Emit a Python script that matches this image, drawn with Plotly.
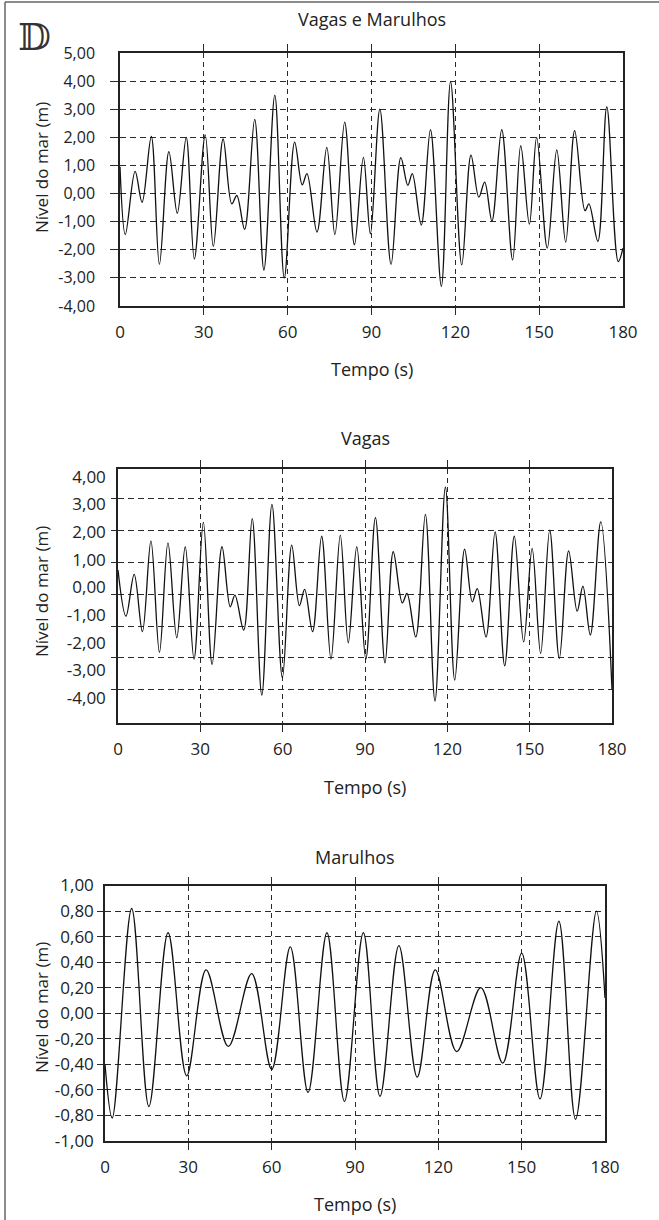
import plotly.graph_objects as go

# ---------------- data ----------------
X_TICKS = [0, 30, 60, 90, 120, 150, 180]
X_LABELS = ["0", "30", "60", "90", "120", "150", "180"]
X_GRID = [30, 60, 90, 120, 150]

Y1_TICKS = [5, 4, 3, 2, 1, 0, -1, -2, -3, -4]
Y1_LABELS = ["5,00", "4,00", "3,00", "2,00", "1,00", "0,00", "-1,00", "-2,00", "-3,00", "-4,00"]
Y1_GRID = [4, 3, 2, 1, 0, -1, -2, -3]

Y2_TICKS = [4, 3, 2, 1, 0, -1, -2, -3, -4]
Y2_LABELS = ["4,00", "3,00", "2,00", "1,00", "0,00", "-1,00", "-2,00", "-3,00", "-4,00"]
Y2_GRID = [3, 2, 1, 0, -1, -2, -3]

Y3_TICKS = [1.0, 0.8, 0.6, 0.4, 0.2, 0.0, -0.2, -0.4, -0.6, -0.8, -1.0]
Y3_LABELS = ["1,00", "0,80", "0,60", "0,40", "0,20", "0,00", "-0,20", "-0,40", "-0,60", "-0,80", "-1,00"]
Y3_GRID = [0.8, 0.6, 0.4, 0.2, 0.0, -0.2, -0.4, -0.6, -0.8]

# Vagas e Marulhos (extrema)
VM_T = [0, 1.9, 5.4, 7.9, 11.2, 14.1, 17.5, 20.5, 23.7, 26.6,
        30.5, 33.4, 36.9, 40.0, 41.8, 44.6, 48.2, 51.5, 55.4, 58.8,
        62.5, 65.2, 66.9, 70.5, 74.0, 76.9, 80.4, 83.9, 87.1, 89.6,
        93.0, 97.0, 100.5, 103.0, 104.6, 107.8, 111.1, 115.0, 118.3, 122.3,
        125.6, 128.4, 130.5, 133.1, 136.6, 140.5, 143.4, 146.5, 149.1, 152.9,
        156.3, 159.5, 162.7, 166.4, 167.8, 171.0, 174.2, 178.3, 180]
VM_V = [0.95, -1.46, 0.79, -0.31, 2.03, -2.52, 1.49, -0.70, 2.00, -2.33,
        2.09, -1.88, 1.94, -0.37, -0.07, -1.27, 2.64, -2.72, 3.50, -3.00,
        1.83, 0.31, 0.71, -1.37, 1.64, -1.46, 2.54, -1.82, 1.29, -1.43,
        3.00, -2.52, 1.28, 0.29, 0.71, -1.12, 2.27, -3.30, 3.98, -2.54,
        1.37, -0.13, 0.41, -0.97, 2.27, -2.36, 1.70, -1.09, 2.00, -1.94,
        1.55, -1.73, 2.24, -0.61, -0.37, -1.70, 3.08, -2.42, -1.94]

# Vagas
V_T = [0, 2.9, 5.9, 8.9, 12.0, 15.1, 18.2, 21.4, 24.5, 27.7,
       31.1, 34.3, 37.9, 40.9, 42.6, 45.8, 48.9, 52.4, 56.1, 59.9,
       63.3, 66.1, 68.0, 70.9, 74.2, 77.6, 81.0, 83.9, 87.0, 90.3,
       93.8, 97.3, 100.3, 103.6, 105.3, 108.5, 112.0, 115.5, 119.3, 122.7,
       126.3, 129.1, 130.9, 134.1, 137.4, 140.9, 144.4, 147.8, 150.9, 154.0,
       157.3, 160.8, 164.2, 167.3, 169.4, 172.1, 175.9, 180]
V_V = [0.63, -1.04, 0.47, -1.60, 1.68, -2.35, 1.61, -1.82, 1.47, -2.59,
       2.35, -2.78, 1.47, -0.70, -0.28, -1.54, 2.49, -3.89, 3.00, -3.27,
       1.53, -0.66, -0.07, -1.60, 1.85, -2.59, 1.89, -2.00, 1.47, -2.59,
       2.52, -2.73, 1.29, -0.56, -0.22, -1.79, 2.64, -4.11, 3.62, -3.35,
       1.38, -0.52, -0.04, -1.79, 2.01, -2.83, 1.85, -1.97, 1.41, -2.39,
       2.07, -2.57, 1.32, -0.86, 0.05, -1.72, 2.37, -3.69]

# Marulhos
M_T = [0, 2.6, 9.6, 15.8, 22.7, 29.4, 36.4, 44.4, 52.8, 60.0,
       66.7, 73.1, 79.9, 86.2, 93.0, 99.0, 105.8, 112.4, 118.9, 126.6,
       135.3, 143.2, 150.0, 156.6, 163.4, 169.4, 176.9, 180]
M_V = [-0.40, -0.82, 0.82, -0.73, 0.63, -0.49, 0.34, -0.26, 0.31, -0.44,
       0.52, -0.62, 0.63, -0.69, 0.63, -0.65, 0.53, -0.50, 0.34, -0.30,
       0.20, -0.39, 0.47, -0.67, 0.72, -0.83, 0.80, 0.12]

TITLES = ["Vagas e Marulhos", "Vagas", "Marulhos"]
X_TITLE = "Tempo (s)"
Y_TITLE = "Nível do mar (m)"

# ---------------- layout helpers ----------------
W, H = 659, 1220
FONT = "Open Sans, Noto Sans, sans-serif"
INK = "#222222"
GRIDC = "#2a2a2a"


def fx(p):
    return p / W


def fy(p):
    return 1 - p / H


def xaxis(dom, standoff):
    return dict(
        domain=[fx(dom[0]), fx(dom[1])], range=[0, 180],
        tickmode="array", tickvals=X_TICKS, ticktext=X_LABELS,
        ticks="", showgrid=False, zeroline=False,
        showline=True, mirror="ticks", linecolor=INK, linewidth=1.5,
        tickfont=dict(family=FONT, size=17, color=INK),
        ticklabelstandoff=standoff,
        minor=dict(tickmode="array", tickvals=X_GRID, ticks="outside", ticklen=7,
                   tickwidth=1.2, tickcolor=GRIDC, showgrid=True, gridcolor=GRIDC,
                   gridwidth=1.1, griddash="5px,4px"),
        fixedrange=True,
    )


def yaxis(dom, rng, tv, tt, grid, standoff, fsize, ticklen):
    d = dict(
        domain=[fy(dom[1]), fy(dom[0])], range=rng,
        tickmode="array", tickvals=tv, ticktext=tt,
        ticks="", showgrid=False, zeroline=False,
        showline=True, mirror=True, linecolor=INK, linewidth=1.5,
        tickfont=dict(family=FONT, size=fsize, color=INK),
        ticklabelstandoff=standoff,
        fixedrange=True,
    )
    if grid is not None:
        d["minor"] = dict(tickmode="array", tickvals=grid, ticks="outside", ticklen=ticklen,
                          tickwidth=1.2, tickcolor=GRIDC, showgrid=True, gridcolor=GRIDC,
                          gridwidth=1.1, griddash="6px,4px")
    return d


# pixel boxes of the three panels: (x0, x1), (y0_top, y1_bottom)
P1X, P1Y = (120, 623), (53, 306)
P2X, P2Y = (118, 612), (469, 723)
P3X, P3Y = (105, 605), (885.5, 1141)

fig = go.Figure()
line = dict(color="#111111", width=1.3, shape="spline", smoothing=1.0)
fig.add_trace(go.Scatter(x=VM_T, y=VM_V, mode="lines", line=line, xaxis="x", yaxis="y",
                         showlegend=False, hoverinfo="skip"))
fig.add_trace(go.Scatter(x=V_T, y=V_V, mode="lines", line=line, xaxis="x2", yaxis="y2",
                         showlegend=False, hoverinfo="skip"))
fig.add_trace(go.Scatter(x=M_T, y=M_V, mode="lines", line=line, xaxis="x3", yaxis="y3",
                         showlegend=False, hoverinfo="skip"))
# empty trace to register the grid-only overlay axis of panel 2
fig.add_trace(go.Scatter(x=[None], y=[None], mode="lines", xaxis="x2", yaxis="y4",
                         showlegend=False, hoverinfo="skip"))

y4 = dict(
    domain=[fy(P2Y[1]), fy(P2Y[0])], range=[-4.04, 3.93],
    overlaying="y2", anchor="x2", side="left",
    tickmode="array", tickvals=Y2_GRID, showticklabels=False,
    ticks="outside", ticklen=6, tickwidth=1.2, tickcolor=GRIDC,
    showgrid=True, gridcolor=GRIDC, gridwidth=1.1, griddash="6px,4px",
    showline=False, zeroline=False, fixedrange=True,
)

fig.update_layout(
    width=W, height=H,
    margin=dict(l=0, r=0, t=0, b=0, autoexpand=False),
    paper_bgcolor="white", plot_bgcolor="white",
    font=dict(family=FONT, color=INK),
    xaxis=dict(xaxis(P1X, 10), anchor="y"),
    yaxis=dict(yaxis(P1Y, [-4, 5], Y1_TICKS, Y1_LABELS, Y1_GRID, 20, 16, 8), anchor="x"),
    xaxis2=dict(xaxis(P2X, 10), anchor="y2"),
    yaxis2=dict(yaxis(P2Y, [-4.9, 4.28], Y2_TICKS, Y2_LABELS, None, 7, 17, 6), anchor="x2"),
    yaxis4=y4,
    xaxis3=dict(xaxis(P3X, 10), anchor="y3"),
    yaxis3=dict(yaxis(P3Y, [-1.0, 1.0], Y3_TICKS, Y3_LABELS, Y3_GRID, 6, 17, 6), anchor="x3"),
)

ann = []
# panel titles
for title, (xx, yy) in zip(TITLES, [(P1X, 19), (P2X, 438), (P3X, 857)]):
    ann.append(dict(text=title, x=fx((xx[0] + xx[1]) / 2), y=fy(yy), xref="paper", yref="paper",
                    xanchor="center", yanchor="middle", showarrow=False,
                    font=dict(family=FONT, size=18, color=INK)))
# x titles
for xx, yy in [(P1X, 369), (P2X, 787), (P3X, 1204)]:
    ann.append(dict(text=X_TITLE, x=fx((xx[0] + xx[1]) / 2), y=fy(yy), xref="paper", yref="paper",
                    xanchor="center", yanchor="middle", showarrow=False,
                    font=dict(family=FONT, size=18, color=INK)))
# y titles
for yy in [168, 592, 1008]:
    ann.append(dict(text=Y_TITLE, x=fx(41), y=fy(yy), xref="paper", yref="paper",
                    xanchor="center", yanchor="middle", showarrow=False, textangle=-90,
                    font=dict(family=FONT, size=17, color=INK)))
# panel letter
ann.append(dict(text="𝔻", x=fx(34), y=fy(37), xref="paper", yref="paper",
                xanchor="center", yanchor="middle", showarrow=False,
                font=dict(family="DejaVu Serif, DejaVu Sans, serif", size=38, color="#333333")))
fig.update_layout(annotations=ann)

# outer frame (top and left edges)
fig.update_layout(shapes=[
    dict(type="line", xref="paper", yref="paper", x0=fx(5), x1=fx(5), y0=fy(2), y1=fy(1220),
         line=dict(color="#666666", width=1.5)),
    dict(type="line", xref="paper", yref="paper", x0=fx(5), x1=fx(659), y0=fy(2), y1=fy(2),
         line=dict(color="#666666", width=1.5)),
])

# remove the page's default body margin so figure pixels match window pixels
fig.write_html("out.html", config={"displayModeBar": False},
               post_script="document.body.style.margin='0px';")
